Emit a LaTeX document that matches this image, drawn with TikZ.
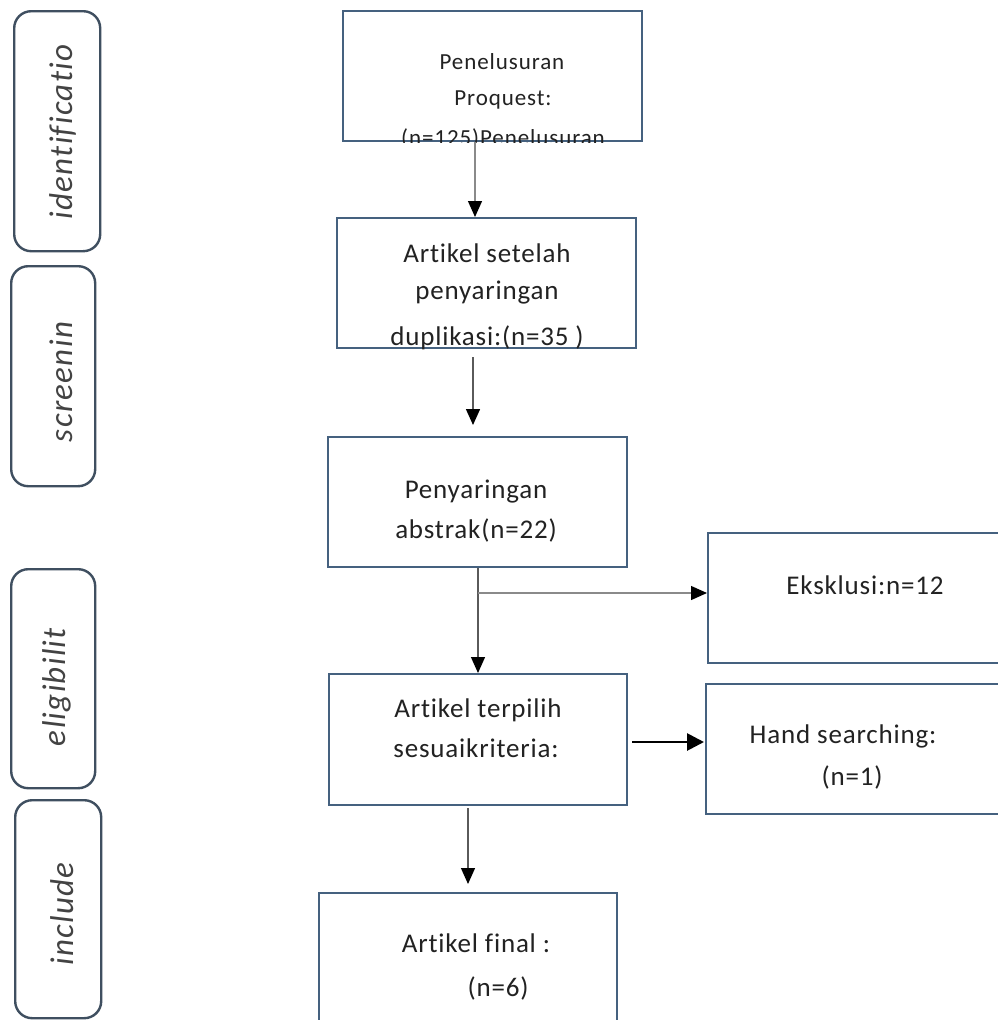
\documentclass[tikz,border=0pt]{standalone}
\usepackage{fontspec}
\setmainfont{Carlito}[Ligatures=NoCommon]
\newfontfamily\sidefont{Carlito}[Ligatures=NoCommon, LetterSpace=4]
\newfontfamily\boxfont{Carlito}[Ligatures=NoCommon, LetterSpace=3]
\newfontfamily\smallfont{Carlito}[Ligatures=NoCommon, LetterSpace=4]
\usetikzlibrary{arrows.meta}
\definecolor{boxline}{HTML}{45617F}
\definecolor{sideline}{HTML}{3F4F60}
\definecolor{txt}{HTML}{222222}
\definecolor{lgray}{HTML}{8A8A8A}
\definecolor{mgray}{HTML}{5A5A5A}
\tikzset{
  box/.style={draw=boxline, line width=2pt, rectangle, inner sep=0pt, anchor=north west},
  side/.style={draw=sideline, line width=2.4pt, rounded corners=17pt, rectangle, inner sep=0pt, anchor=north west},
  sidetxt/.style={text=txt!85, font=\sidefont\fontsize{33}{38}\selectfont\itshape, rotate=90, inner sep=0pt},
  btxt/.style={text=txt, font=\boxfont\fontsize{27}{32}\selectfont, inner sep=0pt},
  stxt/.style={text=txt, font=\smallfont\fontsize{23}{27}\selectfont, inner sep=0pt},
  tip/.style={-{Triangle[length=16pt,width=14pt,color=black]}},
  bigtip/.style={-{Triangle[length=17pt,width=17pt,color=black]}},
}
\begin{document}
\begin{tikzpicture}[x=1pt,y=-1pt]
\clip (0,0) rectangle (998,1020);
\fill[white] (0,0) rectangle (998,1020);

% side labels
\node[side, minimum width=86pt, minimum height=240pt] (s1) at (13,10) {};
\node[side, minimum width=84pt, minimum height=220pt] (s2) at (10,265) {};
\node[side, minimum width=84pt, minimum height=219pt] (s3) at (10,568) {};
\node[side, minimum width=86pt, minimum height=218pt] (s4) at (14,799) {};
\node[sidetxt] (t1) at (63,132) {identificatio};
\node[sidetxt] (t2) at (61,382) {screenin};
\node[sidetxt] (t3) at (57,687) {eligibilit};
\node[sidetxt] (t4) at (62,914) {include};

% main boxes
\node[box, minimum width=299pt, minimum height=130pt] (b1) at (342,10) {};
\node[box, minimum width=299pt, minimum height=130pt] (b2) at (336,217) {};
\node[box, minimum width=299pt, minimum height=130pt] (b3) at (327,436) {};
\node[box, minimum width=298pt, minimum height=131pt] (b4) at (328,673) {};
\node[box, minimum width=298pt, minimum height=160pt] (b5) at (318,892) {};
\node[box, minimum width=320pt, minimum height=130pt] (b6) at (707,532) {};
\node[box, minimum width=320pt, minimum height=130pt] (b7) at (705,683) {};

% texts
\begin{scope}
\clip (b1.south west) rectangle (b1.north east);
\node[stxt] (l11) at (502,62) {Penelusuran};
\node[stxt] (l12) at (503,100) {Proquest:};
\node[stxt] (l13) at (503,139) {(n=125)Penelusuran};
\end{scope}
\begin{scope}
\clip (b2.south west) rectangle (b2.north east);
\node[btxt] (l21) at (487,253) {Artikel setelah};
\node[btxt] (l22) at (487,293) {penyaringan};
\node[btxt] (l23) at (487,338) {duplikasi:(n=35 )};
\end{scope}
\node[btxt] (l31) at (476,492) {Penyaringan};
\node[btxt] (l32) at (476,530) {abstrak(n=22)};
\node[btxt] (l61) at (865,585) {Eksklusi:n=12};
\node[btxt] (l41) at (478,710) {Artikel terpilih};
\node[btxt] (l42) at (476,748) {sesuaikriteria:};
\node[btxt] (l71) at (843,736) {Hand searching:};
\node[btxt] (l72) at (852,777) {(n=1)};
\node[btxt] (l51) at (476,943) {Artikel final :};
\node[btxt] (l52) at (498,988) {(n=6)};

% connectors
\coordinate (a2s) at (473,357);
\coordinate (a2e) at (473,425);
\coordinate (j) at (478,593);
\coordinate (h1) at (632,742);
\coordinate (h2) at (704,742);
\coordinate (a4s) at (468,808);
\coordinate (a4e) at (468,884);

\draw[tip, lgray, line width=1.3pt] (b1.south -| 475,0) -- (b2.north -| 475,0);
\draw[tip, mgray, line width=1.5pt] (a2s) -- (a2e);
\draw[tip, mgray, line width=1.3pt] (b3.south -| j) -- (b4.north -| j);
\draw[tip, lgray, line width=1.3pt] (j) -- (b6.west |- j);
\draw[bigtip, black, line width=2.8pt] (h1) -- (h2);
\draw[tip, mgray, line width=1.3pt] (a4s) -- (a4e);
\end{tikzpicture}
\end{document}
